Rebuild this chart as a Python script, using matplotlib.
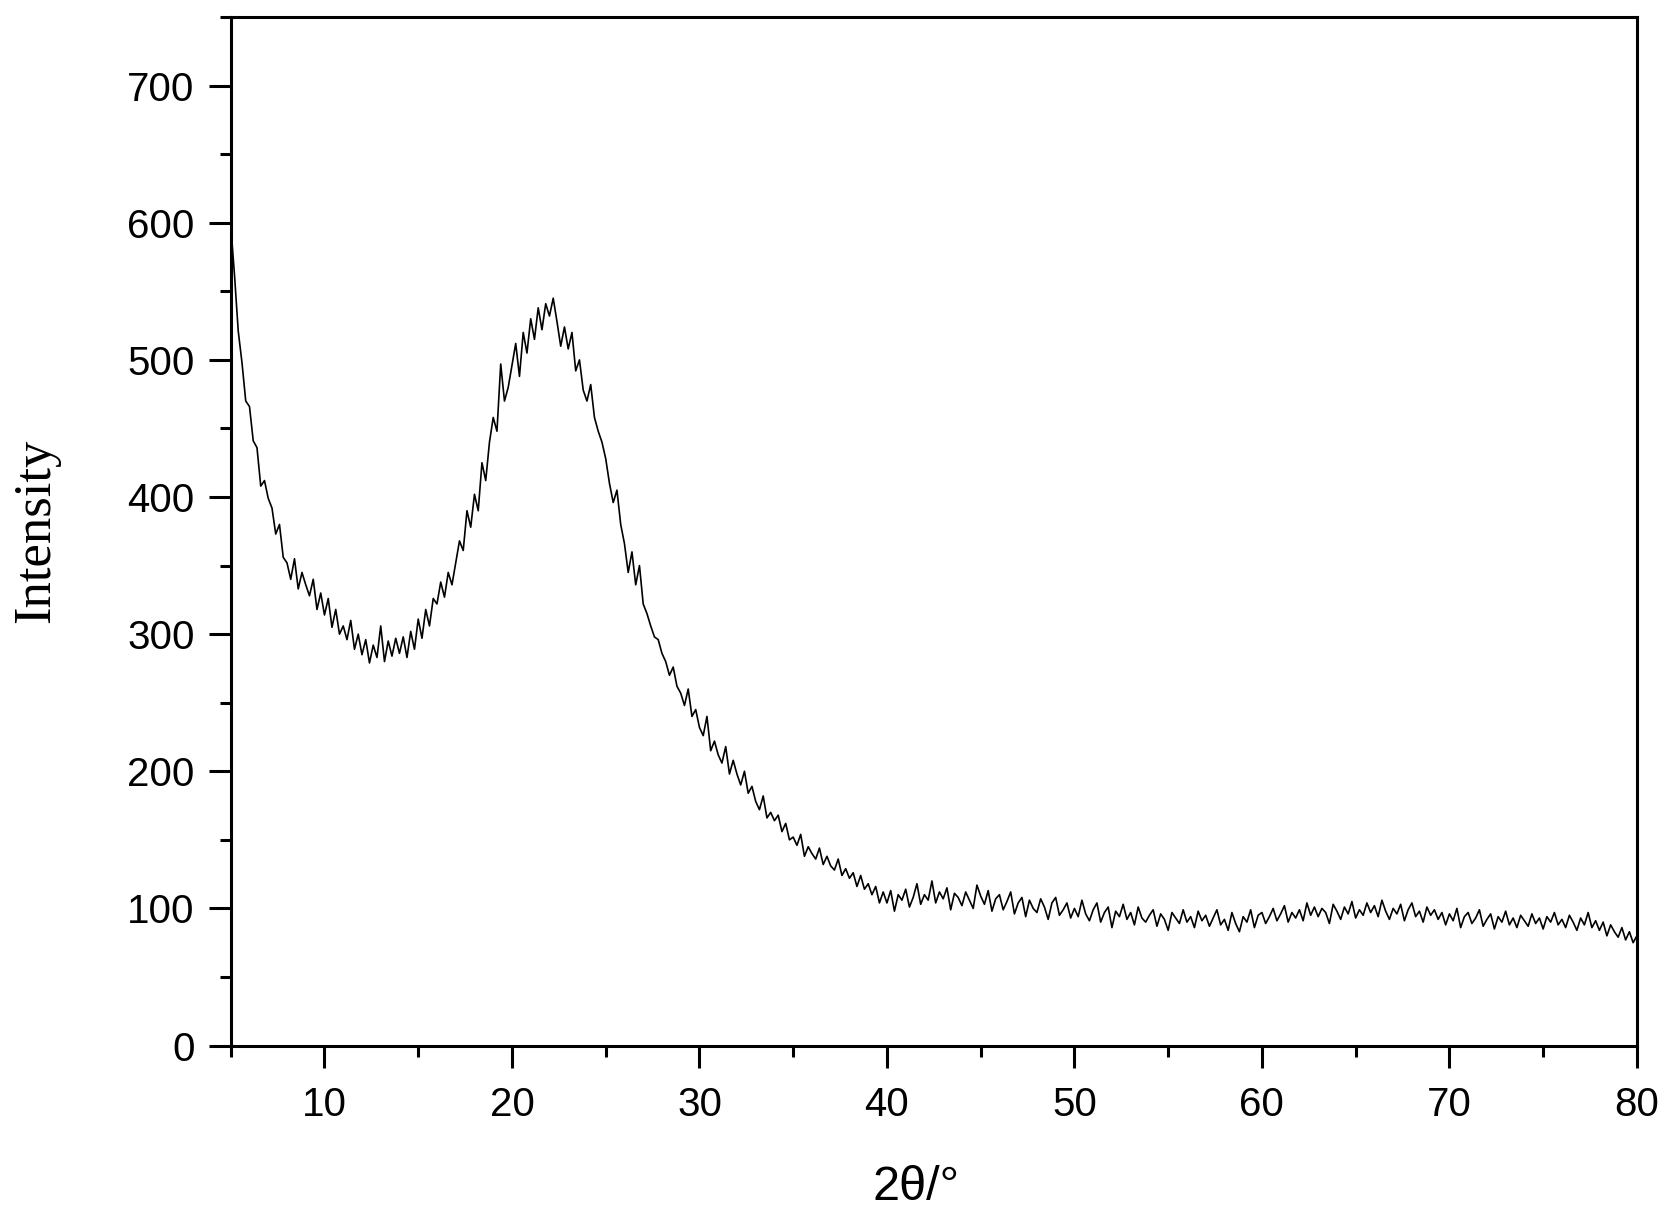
import numpy as np
import matplotlib
matplotlib.use("Agg")
import matplotlib.pyplot as plt
from matplotlib.ticker import MultipleLocator

# 2theta sampled every 0.2 deg from 5 to 80
two_theta_start = 5.0
two_theta_step = 0.2

# intensity, five samples per degree
intensity = [
    598, 562, 521, 498, 470,   # 5
    466, 441, 436, 408, 412,   # 6
    399, 392, 373, 380, 356,   # 7
    352, 340, 355, 333, 345,   # 8
    336, 328, 340, 318, 330,   # 9
    314, 326, 305, 318, 300,   # 10
    306, 296, 310, 289, 300,   # 11
    285, 296, 279, 292, 283,   # 12
    306, 280, 295, 284, 297,   # 13
    286, 298, 283, 302, 289,   # 14
    311, 297, 318, 306, 326,   # 15
    322, 338, 327, 345, 336,   # 16
    352, 368, 361, 390, 378,   # 17
    402, 390, 425, 412, 440,   # 18
    458, 448, 497, 470, 480,   # 19
    496, 512, 488, 520, 505,   # 20
    530, 515, 538, 522, 541,   # 21
    532, 545, 528, 510, 524,   # 22
    508, 520, 492, 500, 478,   # 23
    470, 482, 458, 448, 440,   # 24
    428, 410, 396, 405, 380,   # 25
    366, 345, 360, 336, 350,   # 26
    322, 315, 306, 298, 296,   # 27
    286, 280, 270, 276, 262,   # 28
    257, 248, 260, 240, 245,   # 29
    232, 226, 240, 215, 222,   # 30
    212, 206, 218, 198, 208,   # 31
    198, 190, 200, 184, 189,   # 32
    178, 172, 182, 166, 170,   # 33
    164, 168, 156, 162, 150,   # 34
    152, 146, 154, 138, 145,   # 35
    140, 136, 144, 132, 138,   # 36
    131, 128, 136, 124, 129,   # 37
    122, 126, 116, 124, 114,   # 38
    118, 110, 116, 104, 112,   # 39
    104, 113, 98, 110, 106,    # 40
    114, 101, 108, 118, 103,   # 41
    110, 106, 120, 104, 112,   # 42
    107, 115, 99, 111, 108,    # 43
    102, 112, 106, 100, 117,   # 44
    109, 103, 113, 98, 107,    # 45
    110, 99, 105, 112, 96,     # 46
    104, 108, 94, 106, 100,    # 47
    97, 107, 101, 92, 104,     # 48
    108, 95, 99, 104, 93,      # 49
    100, 94, 106, 96, 91,      # 50
    99, 104, 90, 97, 101,      # 51
    86, 98, 94, 103, 92,       # 52
    97, 88, 101, 93, 90,       # 53
    95, 99, 87, 96, 92,        # 54
    84, 97, 93, 89, 99,        # 55
    90, 94, 86, 98, 91,        # 56
    95, 87, 93, 99, 88,        # 57
    92, 84, 97, 89, 83,        # 58
    94, 90, 99, 86, 95,        # 59
    97, 89, 94, 100, 91,       # 60
    96, 102, 90, 97, 93,       # 61
    99, 91, 104, 95, 101,      # 62
    94, 100, 97, 89, 103,      # 63
    98, 92, 101, 96, 105,      # 64
    93, 99, 95, 104, 97,       # 65
    102, 94, 106, 98, 92,      # 66
    100, 96, 103, 91, 99,      # 67
    104, 94, 98, 90, 101,      # 68
    95, 99, 92, 97, 88,        # 69
    96, 91, 100, 86, 94,       # 70
    97, 89, 93, 99, 87,        # 71
    92, 96, 85, 94, 90,        # 72
    98, 88, 93, 86, 95,        # 73
    91, 87, 96, 89, 93,        # 74
    85, 94, 90, 97, 88,        # 75
    92, 86, 95, 90, 84,        # 76
    93, 88, 97, 86, 91,        # 77
    84, 90, 80, 88, 83,        # 78
    79, 86, 77, 83, 75,        # 79
    80,                        # 80
]

two_theta = two_theta_start + two_theta_step * np.arange(len(intensity))

fig = plt.figure(figsize=(16.72, 12.2), dpi=100)
ax = fig.add_axes([0.138, 0.143, 0.841, 0.843])

ax.plot(two_theta, intensity, color='black', linewidth=1.2)

ax.set_xlim(5, 80)
ax.set_ylim(0, 750)
ax.xaxis.set_major_locator(MultipleLocator(10))
ax.xaxis.set_minor_locator(MultipleLocator(5))
ax.yaxis.set_major_locator(MultipleLocator(100))
ax.yaxis.set_minor_locator(MultipleLocator(50))

for s in ax.spines.values():
    s.set_linewidth(2.2)
ax.tick_params(which='both', direction='out', top=False, right=False, width=2.2)
ax.tick_params(which='major', length=16, labelsize=29)
ax.tick_params(axis='x', which='major', pad=13)
ax.tick_params(axis='y', which='major', pad=10)
ax.tick_params(which='minor', length=8)
for lab in ax.get_xticklabels() + ax.get_yticklabels():
    lab.set_fontfamily('Liberation Sans')

ax.set_xlabel('2θ/°', family='Liberation Sans', fontsize=35, labelpad=30)
ax.xaxis.label.set_x(0.487)
ax.set_ylabel('Intensity', family='Liberation Serif', fontsize=38, labelpad=48)

fig.savefig('out.png', dpi=100)
